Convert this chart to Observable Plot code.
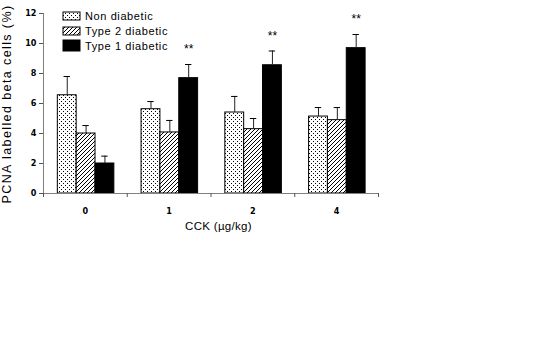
<!DOCTYPE html>
<html><head><meta charset="utf-8">
<script src="https://cdn.jsdelivr.net/npm/d3@7"></script>
<script src="https://cdn.jsdelivr.net/npm/@observablehq/plot@0.6"></script>
<style>body{margin:0;background:#fff} svg{display:block}</style>
</head><body><div id="chart"></div>
<script>
const doses = ["0", "1", "2", "4"];
const seriesNames = ["Non diabetic", "Type 2 diabetic", "Type 1 diabetic"];
const nonDiabetic = [6.55, 5.62, 5.40, 5.13];
const nonDiabeticErr = [1.25, 0.51, 1.07, 0.60];
const type2 = [4.00, 4.07, 4.29, 4.89];
const type2Err = [0.53, 0.80, 0.71, 0.84];
const type1 = [2.00, 7.69, 8.55, 9.69];
const type1Err = [0.49, 0.91, 0.95, 0.91];
const type1Signif = ["", "**", "**", "**"];
const yTicks = [0, 2, 4, 6, 8, 10, 12];

const fills = ["url(#dots)", "url(#hatch)", "#000"];
const groupPad = 0.171, barW = 0.225;
const values = [nonDiabetic, type2, type1];
const errors = [nonDiabeticErr, type2Err, type1Err];
const rows = [];
values.forEach((vals, k) => {
  vals.forEach((v, i) => rows.push({
    i, k, dose: doses[i], series: seriesNames[k], value: v, err: errors[k][i],
    x1: i + groupPad + k * barW, x2: i + groupPad + (k + 1) * barW,
    xc: i + groupPad + (k + 0.5) * barW,
    signif: k === 2 ? type1Signif[i] : ""
  }));
});
const tickFont = "'Liberation Sans Narrow', 'DejaVu Sans Condensed', 'Liberation Sans', sans-serif";
const textFont = "'Liberation Sans', Arial, sans-serif";

const plot = Plot.plot({
  width: 557, height: 363,
  marginLeft: 43, marginRight: 179, marginTop: 13, marginBottom: 170,
  style: {fontFamily: textFont, background: "white", color: "#000"},
  x: {domain: [0, 4], axis: null},
  y: {domain: [0, 12], axis: null},
  marks: [
    ...seriesNames.map((s, k) => Plot.rectY(rows.filter(d => d.k === k), {
      x1: "x1", x2: "x2", y1: 0, y2: "value", fill: fills[k], stroke: "#000", strokeWidth: 1
    })),
    Plot.ruleX(rows, {x: "xc", y1: "value", y2: d => d.value + d.err, stroke: "#222", strokeWidth: 1}),
    Plot.ruleY(rows, {y: d => d.value + d.err, x1: d => d.xc - 0.038, x2: d => d.xc + 0.038, stroke: "#000", strokeWidth: 1}),
    Plot.text(rows.filter(d => d.signif), {x: "xc", y: d => d.value + d.err, text: "signif", dy: -15, fontSize: 12, fill: "#000"}),
    Plot.ruleY([0], {stroke: "#808080"}),
    Plot.ruleX([0], {stroke: "#808080"}),
    Plot.axisY({ticks: yTicks, tickSize: 4, tickPadding: 3, tickFormat: d3.format("d"), fontWeight: "bold", fontSize: 9, fontFamily: tickFont, stroke: "#555", label: null}),
    Plot.axisX({ticks: [0, 1, 2, 3, 4], tickSize: 4, tickFormat: () => "", stroke: "#555", label: null}),
    Plot.axisX({ticks: [0.5, 1.5, 2.5, 3.5], tickSize: 0, tickPadding: 14, tickFormat: t => doses[Math.floor(t)], fontWeight: "bold", fontSize: 9, fontFamily: tickFont, label: null})
  ]
});

const svg = d3.select(plot);
const defs = svg.insert("defs", ":first-child");
const dots = defs.append("pattern").attr("id", "dots").attr("patternUnits", "userSpaceOnUse").attr("width", 4).attr("height", 4);
dots.append("rect").attr("width", 4).attr("height", 4).attr("fill", "#fff");
dots.append("rect").attr("x", 1).attr("y", 1).attr("width", 1).attr("height", 1).attr("fill", "#000");
dots.append("rect").attr("x", 3).attr("y", 3).attr("width", 1).attr("height", 1).attr("fill", "#000");
const hatch = defs.append("pattern").attr("id", "hatch").attr("patternUnits", "userSpaceOnUse").attr("width", 4).attr("height", 4);
hatch.append("rect").attr("width", 4).attr("height", 4).attr("fill", "#fff");
hatch.append("path").attr("d", "M-1,1 L1,-1 M0,4 L4,0 M3,5 L5,3").attr("stroke", "#000").attr("stroke-width", 1);

const xs = plot.scale("x"), ys = plot.scale("y");
const cx = (xs.range[0] + xs.range[1]) / 2;
const cy = (ys.range[0] + ys.range[1]) / 2;
svg.append("text").attr("x", cx + 8).attr("y", ys.range[0] + 33)
  .attr("text-anchor", "middle").attr("dominant-baseline", "central")
  .attr("font-size", 11.5).attr("letter-spacing", "0.3px").attr("font-family", textFont)
  .attr("fill", "#000").text("CCK (\u00B5g/kg)");
svg.append("text").attr("transform", `translate(11,${cy + 1}) rotate(-90)`)
  .attr("text-anchor", "middle")
  .attr("font-size", 12.5).attr("letter-spacing", "1.4px").attr("font-family", textFont)
  .attr("fill", "#000").text("PCNA labelled beta cells (%)");

const legend = svg.append("g").attr("text-anchor", "start");
const lg = [
  {y: 12, h: 8, ty: 16},
  {y: 27, h: 8, ty: 31},
  {y: 40, h: 11, ty: 45.5}
];
seriesNames.forEach((s, k) => {
  legend.append("rect").attr("x", 63).attr("y", lg[k].y).attr("width", 17).attr("height", lg[k].h)
    .attr("fill", fills[k]).attr("stroke", "#000").attr("stroke-width", 1);
  legend.append("text").attr("x", 85).attr("y", lg[k].ty).attr("dominant-baseline", "central")
    .attr("text-anchor", "start")
    .attr("font-size", 11).attr("letter-spacing", "0.6px").attr("font-family", textFont)
    .attr("fill", "#000").text(s);
});

document.getElementById("chart").appendChild(plot);
</script>
</body></html>
